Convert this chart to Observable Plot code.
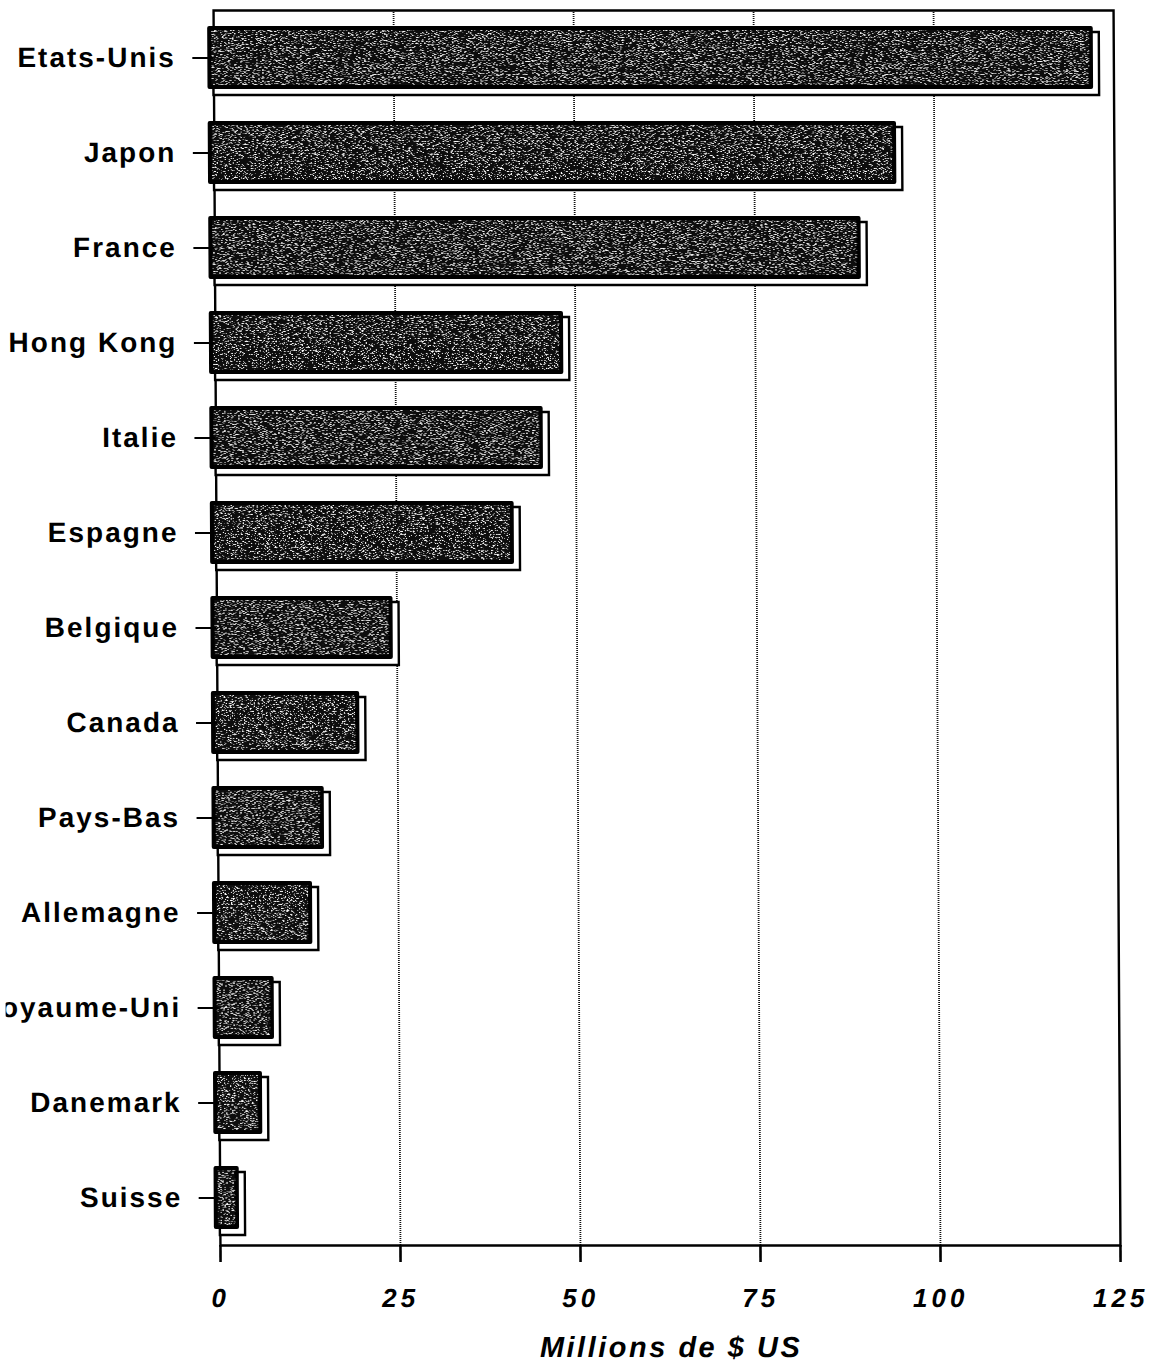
<!DOCTYPE html>
<html>
<head>
<meta charset="utf-8">
<script src="https://cdn.jsdelivr.net/npm/d3@7"></script>
<script src="https://cdn.jsdelivr.net/npm/@observablehq/plot@0.6"></script>
<style>
  html, body { margin: 0; padding: 0; background: #fff; }
  #chart svg { display: block; transform: skewX(0.32deg); transform-origin: 0 0; }
  #chart g[aria-label="y-axis tick label"] text { letter-spacing: 2px; }
  #chart g[aria-label="x-axis tick label"] text { letter-spacing: 4px; }
  #chart g[aria-label="text"] text { letter-spacing: 2.5px; }
</style>
</head>
<body>
<div id="chart"></div>
<script>
const countries = ["Etats-Unis", "Japon", "France", "Hong Kong", "Italie", "Espagne", "Belgique", "Canada", "Pays-Bas", "Allemagne", "Royaume-Uni", "Danemark", "Suisse"];
const values = [123, 95.6, 90.6, 49.2, 46.3, 42.2, 25.3, 20.6, 15.6, 13.9, 8.5, 6.8, 3.5];
const xTicks = [0, 25, 50, 75, 100, 125];
const gridTicks = [25, 50, 75, 100];
const xLabel = "Millions de $ US";

const data = countries.map((c, i) => ({country: c, value: values[i]}));

const plot = Plot.plot({
  width: 1170,
  height: 1368,
  marginLeft: 213,
  marginRight: 57,
  marginTop: 10,
  marginBottom: 123,
  style: {fontFamily: "'Liberation Sans', Arial, Helvetica, sans-serif", background: "#fff", color: "#000"},
  x: {domain: [0, 125]},
  y: {domain: countries, paddingInner: 0.34, paddingOuter: 0.17},
  marks: [
    Plot.ruleX(gridTicks, {stroke: "#111", strokeWidth: 1.8, strokeDasharray: "1,1"}),
    Plot.frame({stroke: "#000", strokeWidth: 2.4}),
    Plot.barX(data, {x: "value", y: "country", dy: 6, fill: "#fff", stroke: "#000", strokeWidth: 2.4}),
    Plot.barX(data, {x: "value", y: "country", dx: -6, fill: "#000", rx: 2}),
    Plot.barX(data, {x: "value", y: "country", dx: -6, inset: 4, fill: "#111"}),
    Plot.axisX({ticks: xTicks, tickSize: 17, tickPadding: 26, fontSize: 26, fontWeight: "bold", fontStyle: "italic", strokeWidth: 2.6, label: null}),
    Plot.axisY({tickSize: 21, tickPadding: 17, fontSize: 28, fontWeight: "bold", strokeWidth: 2.2, label: null}),
    Plot.text([xLabel], {frameAnchor: "bottom", dy: 111, fontSize: 29, fontWeight: "bold", fontStyle: "italic", fill: "#000"})
  ]
});

// texture filter for the scanned bar look
const svgNS = "http://www.w3.org/2000/svg";
const defs = document.createElementNS(svgNS, "defs");
defs.innerHTML = `
<filter id="speck" x="0" y="0" width="1" height="1">
  <feTurbulence type="fractalNoise" baseFrequency="0.5 1.3" numOctaves="2" seed="7" result="noise"/>
  <feColorMatrix in="noise" type="matrix" values="0 0 0 0 1  0 0 0 0 1  0 0 0 0 1  6 0 0 0 -3.45" result="specks"/>
  <feComposite in="specks" in2="SourceAlpha" operator="in" result="clipped"/>
  <feMerge><feMergeNode in="SourceGraphic"/><feMergeNode in="clipped"/></feMerge>
</filter>`;
plot.insertBefore(defs, plot.firstChild);
const barGroups = plot.querySelectorAll('g[aria-label="bar"]');
if (barGroups.length >= 3) barGroups[2].setAttribute("filter", "url(#speck)");

document.getElementById("chart").appendChild(plot);
</script>
</body>
</html>
